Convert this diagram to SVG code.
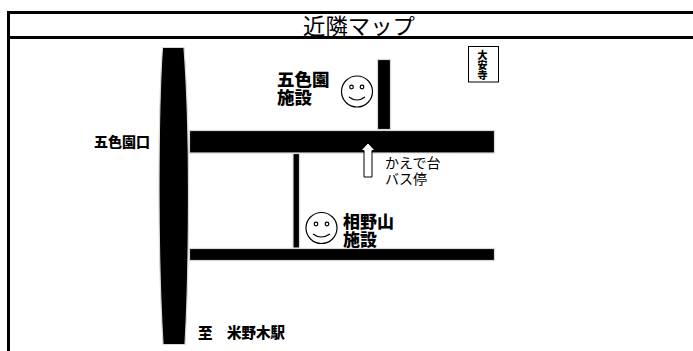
<svg xmlns="http://www.w3.org/2000/svg" width="693" height="351" viewBox="0 0 693 351">
<style>
text{font-family:"Noto Sans CJK JP","Liberation Sans",sans-serif;fill:#000}
.b{font-weight:900;font-size:17.500px}
.s{font-weight:900;font-size:14px}
.road{fill:#000;stroke:#d8d8d8;stroke-width:1.2}
.face{fill:#fff;stroke:#000;stroke-width:1.2}
.line{fill:#000}
</style>
<rect width="693" height="351" fill="#fff"/>
<g id="title"><text x="359" y="34" font-size="22" text-anchor="middle" textLength="112" lengthAdjust="spacingAndGlyphs">近隣マップ</text></g>
<g id="frame">
<rect class="line" x="7" y="11" width="686" height="3"/>
<rect class="line" x="7" y="36" width="686" height="3"/>
<rect class="line" x="7" y="11" width="3" height="340"/>
</g>
<g id="connectors">
<path class="road" d="M162.500 47.500H184C186 75 188.500 120 188.500 190C188.500 260 187 310 185 344.500H163C161 310 159 260 159 190C159 120 160.500 75 162.500 47.500Z"/>
<rect class="road" x="189.500" y="130.500" width="305" height="22.500"/>
<rect class="road" x="189.500" y="248.500" width="305" height="12"/>
<rect class="road" x="377.500" y="59.500" width="13" height="70"/>
<rect class="road" x="293" y="153.500" width="6.500" height="94.500"/>
</g>
<g id="sign-daianji">
<rect x="468.500" y="46.500" width="30" height="35.500" fill="#fff" stroke="#000"/>
<text x="482.500" y="50" style="font-size:10px;font-weight:900;writing-mode:vertical-rl">大安寺</text>
</g>
<g id="goshikien">
<text class="b" x="277" y="86">五色園</text>
<text class="b" x="277" y="104">施設</text>
<circle class="face" cx="357" cy="91.500" r="15.500"/>
<circle class="face" cx="351.500" cy="87" r="1.800"/>
<circle class="face" cx="362" cy="87" r="1.800"/>
<path d="M349 97Q357 103 365 97" fill="none" stroke="#000" stroke-width="1.200"/>
</g>
<g id="aino">
<text class="b" x="343" y="228" font-size="17" style="font-size:17px">相野山</text>
<text class="b" x="343" y="246" style="font-size:17px">施設</text>
<circle class="face" cx="321.500" cy="228" r="15.500"/>
<circle class="face" cx="316" cy="224" r="1.800"/>
<circle class="face" cx="327" cy="224" r="1.800"/>
<path d="M313 234Q321 240 330 234" fill="none" stroke="#000" stroke-width="1.200"/>
</g>
<g id="bus-stop">
<path d="M368 143L375 150.500H372V177H364V150.500H361Z" fill="#fff" stroke="#000"/>
<rect x="380" y="153.800" width="73" height="34" fill="#fff"/>
<text x="385" y="168" font-size="14">かえで台</text>
<text x="385" y="184" font-size="14">バス停</text>
</g>
<g id="goshikien-entrance"><text class="s" x="94" y="147">五色園口</text></g>
<g id="station"><text class="s" x="198" y="338" style="font-size:14.500px">至　米野木駅</text></g>
</svg>
